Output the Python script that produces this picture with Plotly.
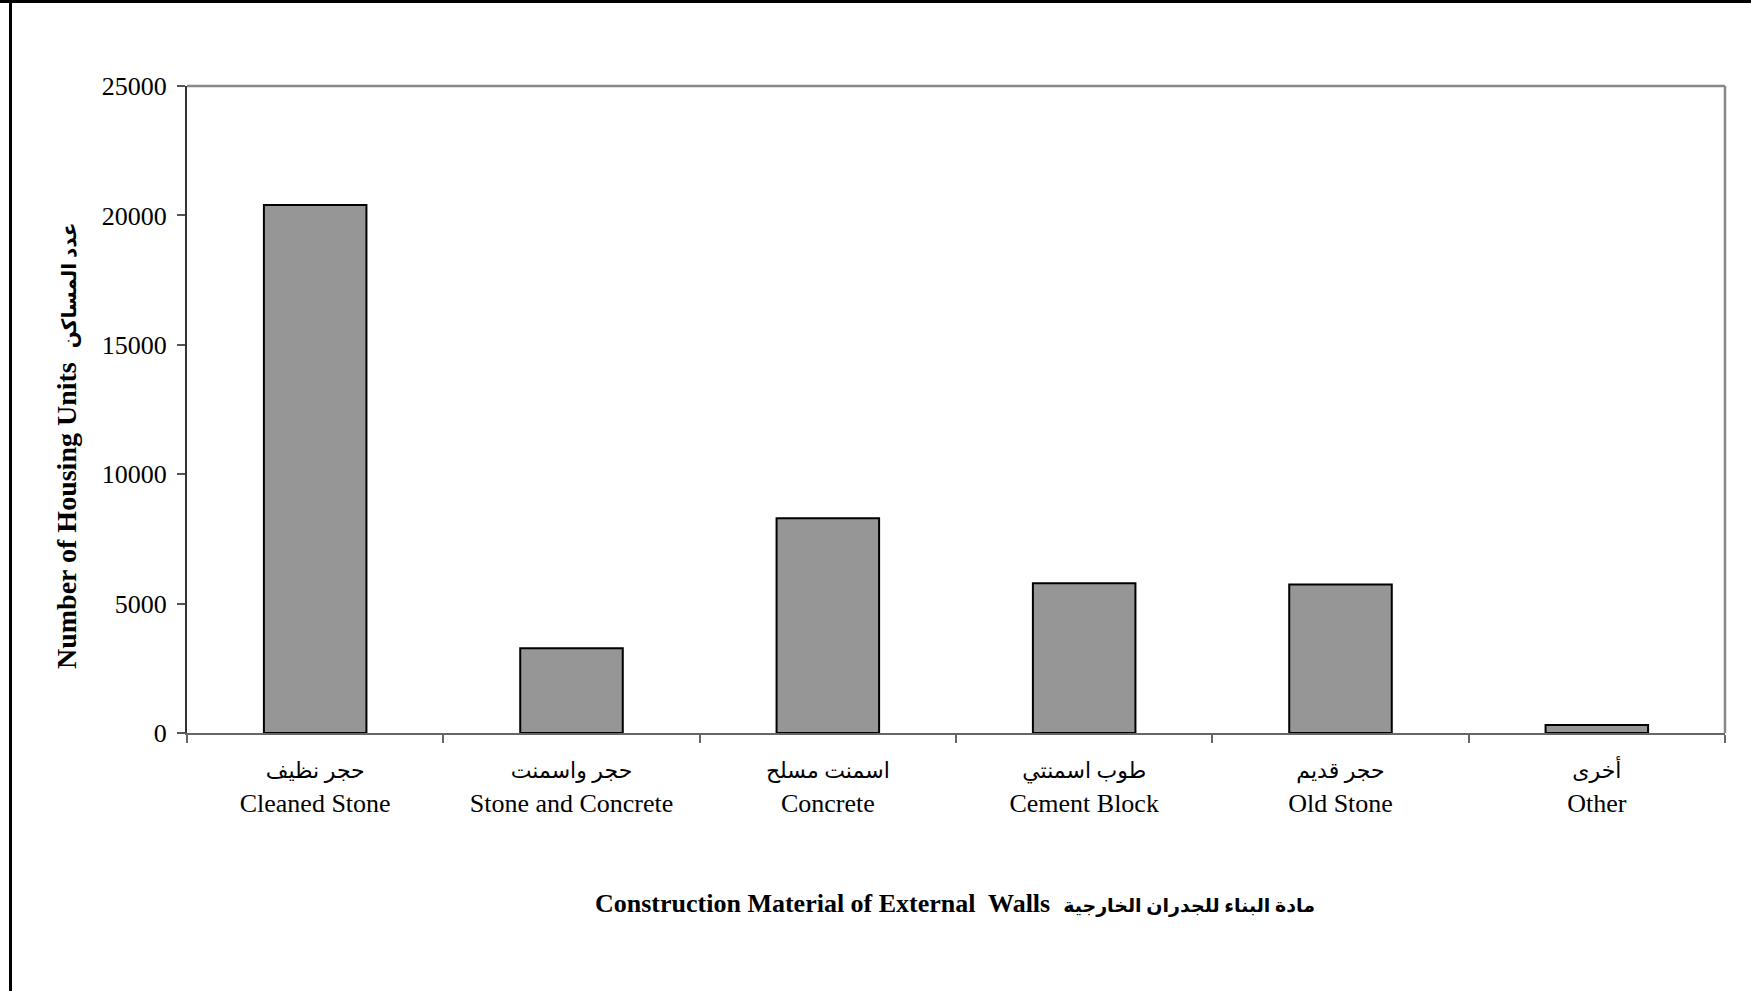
import plotly.graph_objects as go

categories_ar = ["حجر نظيف", "حجر واسمنت", "اسمنت مسلح", "طوب اسمنتي", "حجر قديم", "أخرى"]
categories_en = ["Cleaned Stone", "Stone and Concrete", "Concrete", "Cement Block", "Old Stone", "Other"]
housing_units = [20400, 3270, 8300, 5790, 5740, 310]
y_ticks = [0, 5000, 10000, 15000, 20000, 25000]

labels = [f"<span style='font-size:22px'>{a}</span><br>{e}" for a, e in zip(categories_ar, categories_en)]

W, H = 1751, 991
ML, MR, MT, MB = 187, 26, 86, 258
pw, ph = W - ML - MR, H - MT - MB

def px_x(px):
    return (px - ML) / pw

def px_y(py):
    return (H - MB - py) / ph

fig = go.Figure(go.Bar(
    x=labels, y=housing_units,
    marker=dict(color="#969696", line=dict(color="#000000", width=2)),
    width=0.4,
))

fig.update_layout(
    width=W, height=H,
    margin=dict(l=ML, r=MR, t=MT, b=MB),
    paper_bgcolor="white", plot_bgcolor="white",
    font=dict(family="Liberation Serif, DejaVu Sans, serif", size=26, color="black"),
    showlegend=False,
    xaxis=dict(
        showline=True, linecolor="#666666", linewidth=2,
        ticks="outside", tickson="boundaries", ticklen=8, tickcolor="#666666", tickwidth=1.5,
        showgrid=False, tickfont=dict(size=26), ticklabelstandoff=12,
    ),
    yaxis=dict(
        range=[0, 25000], tickvals=y_ticks, ticktext=[str(v) for v in y_ticks],
        showline=True, linecolor="#333333", linewidth=2,
        ticks="outside", ticklen=8, tickcolor="#555555", tickwidth=1.5,
        showgrid=False, zeroline=False, tickfont=dict(size=26), ticklabelstandoff=5,
    ),
    shapes=[
        dict(type="line", xref="paper", yref="paper", x0=0, x1=1, y0=1, y1=1,
             line=dict(color="#888888", width=2.5)),
        dict(type="line", xref="paper", yref="paper", x0=1, x1=1, y0=0, y1=1,
             line=dict(color="#888888", width=2.5)),
        dict(type="line", xref="paper", yref="paper", x0=px_x(10.5), x1=px_x(10.5), y0=px_y(1000), y1=px_y(0),
             line=dict(color="#000000", width=3)),
        dict(type="line", xref="paper", yref="paper", x0=px_x(0), x1=px_x(1760), y0=px_y(1.5), y1=px_y(1.5),
             line=dict(color="#000000", width=3)),
    ],
    annotations=[
        dict(text="<b>Number of Housing Units  <span style='font-size:20px'>عدد المساكن</span></b>",
             xref="paper", yref="paper",
             x=px_x(66), y=px_y(446), textangle=-90, showarrow=False,
             font=dict(size=28, family="Liberation Serif, DejaVu Sans, serif"),
             xanchor="center", yanchor="middle"),
        dict(text="<b>Construction Material of External  Walls  <span style='font-size:19px'>مادة البناء للجدران الخارجية</span></b>",
             xref="paper", yref="paper", x=px_x(955), y=px_y(903), showarrow=False,
             font=dict(size=26, family="Liberation Serif, DejaVu Sans, serif"),
             xanchor="center", yanchor="middle"),
    ],
)

fig.write_html("out.html", config={"displayModeBar": False},
               post_script="document.body.style.margin='0px';")
